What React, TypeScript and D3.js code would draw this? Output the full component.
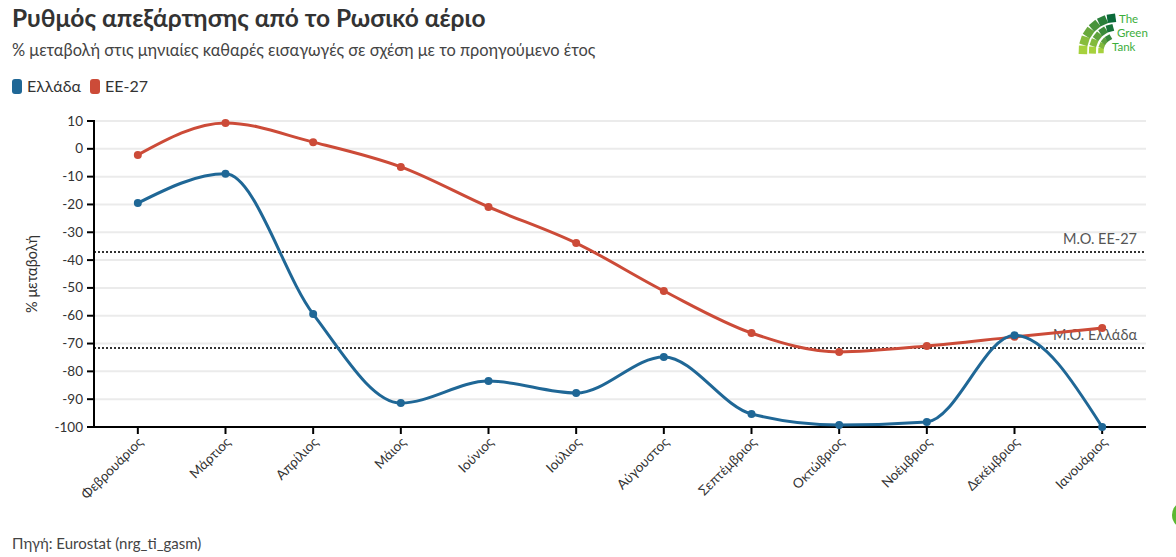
import React from "react";
import * as d3 from "d3";

const months = ["Φεβρουάριος","Μάρτιος","Απρίλιος","Μάιος","Ιούνιος","Ιούλιος","Αύγουστος","Σεπτέμβριος","Οκτώβριος","Νοέμβριος","Δεκέμβριος","Ιανουάριος"];
const greece = [-19.5, -9, -59.4, -91.4, -83.5, -87.8, -74.8, -95.3, -99.3, -98.2, -67, -100];
const eu27 = [-2.2, 9.3, 2.4, -6.5, -20.9, -33.9, -51.1, -66.2, -73, -70.9, -67.6, -64.4];
const meanEU = -37.1;
const meanGreece = -71.6;
const yTicks = [10, 0, -10, -20, -30, -40, -50, -60, -70, -80, -90, -100];

const BLUE = "#1f6796";
const RED = "#cc4b38";
const FONT = "Lato, 'Open Sans', sans-serif";

export default function App() {
  const W = 1176, H = 557;
  const left = 94, right = 1146, top = 121, bottom = 427;
  const x = d3.scalePoint<string>().domain(months).range([left, right]).padding(0.5);
  const y = d3.scaleLinear().domain([-100, 10]).range([bottom, top]);
  const line = d3.line<number>()
    .x((_, i) => x(months[i]) as number)
    .y((d) => y(d))
    .curve(d3.curveMonotoneX);

  const series = [
    { name: "ΕΕ-27", color: RED, data: eu27 },
    { name: "Ελλάδα", color: BLUE, data: greece },
  ];

  // logo fan of squares
  const logoSquares: { x: number; y: number; s: number; c: string; a: number }[] = [];
  const color = d3.scaleLinear<string>().domain([0, 1]).range(["#a6d13d", "#0b6a3a"]);
  const rings = [
    { r: 33, s: 8.5, n: 6, a1: 262 },
    { r: 23.5, s: 7, n: 5, a1: 255 },
    { r: 15, s: 5.5, n: 4, a1: 240 },
  ];
  const cx = 1116, cy = 51;
  rings.forEach((ring) => {
    for (let k = 0; k < ring.n; k++) {
      const t = k / (ring.n - 1);
      const deg = 182 + t * (ring.a1 - 182);
      const ang = deg * Math.PI / 180;
      logoSquares.push({
        x: cx + Math.cos(ang) * ring.r - ring.s / 2,
        y: cy + Math.sin(ang) * ring.r - ring.s / 2,
        s: ring.s,
        c: color((deg - 182) / 80),
        a: deg - 180,
      });
    }
  });

  return (
    <svg width={W} height={H} style={{ position: "absolute", left: 0, top: 0, background: "#fff" }} fontFamily={FONT}>
      <text x={12} y={27} fontSize={24.5} fontWeight={700} fill="#333">Ρυθμός απεξάρτησης από το Ρωσικό αέριο</text>
      <text x={12} y={56} fontSize={16.4} fill="#444">% μεταβολή στις μηνιαίες καθαρές εισαγωγές σε σχέση με το προηγούμενο έτος</text>

      {/* legend */}
      <rect x={12} y={79} width={10} height={15} rx={3} fill={BLUE} />
      <text x={27} y={92} fontSize={16} fill="#333">Ελλάδα</text>
      <rect x={90} y={79} width={10} height={15} rx={3} fill={RED} />
      <text x={105} y={92} fontSize={16} fill="#333">ΕΕ-27</text>

      {/* logo */}
      <g>
        {logoSquares.map((s, i) => (
          <rect key={i} x={s.x} y={s.y} width={s.s} height={s.s} fill={s.c}
            transform={`rotate(${s.a},${s.x + s.s / 2},${s.y + s.s / 2})`} />
        ))}
        <text x={1119} y={23} fontSize={11.5} fill="#3cae3c">The</text>
        <text x={1117} y={37} fontSize={11.5} fill="#3cae3c">Green</text>
        <text x={1112} y={51} fontSize={11.5} fill="#3cae3c">Tank</text>
      </g>

      {/* gridlines */}
      {yTicks.map((t) => (
        <line key={t} x1={left} x2={right} y1={y(t)} y2={y(t)} stroke="#ebebeb" strokeWidth={2} />
      ))}

      {/* mean lines */}
      <line x1={left} x2={right} y1={y(meanEU)} y2={y(meanEU)} stroke="#333" strokeWidth={2} strokeDasharray="2,2" />
      <line x1={left} x2={right} y1={y(meanGreece)} y2={y(meanGreece)} stroke="#333" strokeWidth={2} strokeDasharray="2,2" />
      <text x={1137} y={y(meanEU) - 8} fontSize={14.5} fill="#555" textAnchor="end">Μ.Ο. ΕΕ-27</text>
      <text x={1137} y={y(meanGreece) - 8} fontSize={14.5} fill="#555" textAnchor="end">Μ.Ο. Ελλάδα</text>

      {/* y axis */}
      <line x1={left} x2={left} y1={top - 1} y2={bottom + 1} stroke="#000" strokeWidth={2} />
      {yTicks.map((t) => (
        <g key={t}>
          <line x1={left - 7} x2={left} y1={y(t)} y2={y(t)} stroke="#000" strokeWidth={2} />
          <text x={left - 11} y={y(t) + 4.5} fontSize={13.5} fill="#333" textAnchor="end">{t}</text>
        </g>
      ))}
      <text transform={`translate(37,${(top + bottom) / 2}) rotate(-90)`} fontSize={14.5} fill="#333" textAnchor="middle">% μεταβολή</text>

      {/* x axis */}
      <line x1={left} x2={right} y1={bottom} y2={bottom} stroke="#000" strokeWidth={2} />
      {months.map((m) => {
        const px = x(m) as number;
        return (
          <g key={m}>
            <line x1={px} x2={px} y1={bottom} y2={bottom + 7} stroke="#000" strokeWidth={2} />
            <text transform={`translate(${px + 6},${bottom + 16}) rotate(-45)`} fontSize={13.5} fill="#333" textAnchor="end">{m}</text>
          </g>
        );
      })}

      {/* series */}
      {series.map((s) => (
        <g key={s.name}>
          <path d={line(s.data) || ""} fill="none" stroke={s.color} strokeWidth={3} />
          {s.data.map((v, i) => (
            <circle key={i} cx={x(months[i]) as number} cy={y(v)} r={4} fill={s.color} />
          ))}
        </g>
      ))}

      <text x={12} y={549} fontSize={15} fill="#444">Πηγή: Eurostat (nrg_ti_gasm)</text>
      <circle cx={1186} cy={515} r={14} fill="#5cb832" />
    </svg>
  );
}
